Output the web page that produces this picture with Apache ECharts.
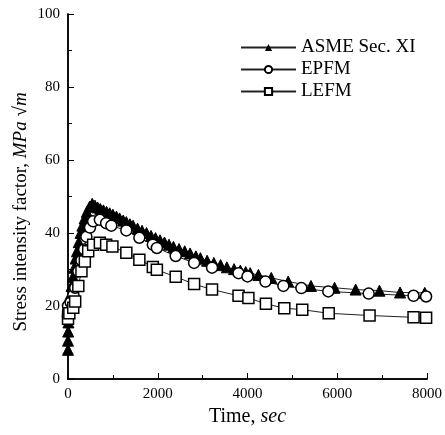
<!DOCTYPE html>
<html>
<head>
<meta charset="utf-8">
<script src="https://cdn.jsdelivr.net/npm/echarts@6/dist/echarts.min.js"></script>
<style>html,body{margin:0;padding:0;background:#fff}#c{width:445px;height:435px}</style>
</head>
<body>
<div id="c"></div>
<script>
// ASME Sec. XI (triangles)
const asmeT = [0,0,5,10,20,30,50,80,110,140,170,200,240,280,320,370,420,480,540,600,660,720,790,860,930,1000,1080,1150,1230,1300,1380,1450,1550,1650,1750,1850,1950,2050,2150,2250,2350,2475,2600,2720,2850,2950,3100,3250,3400,3540,3700,3840,3960,4060,4243,4530,4906,5414,5940,6410,6940,7400,7950];
const asmeK = [8,10.5,13,15.5,18,20.5,23,25.5,28,30.5,33,35,37.5,40,42,44,45.8,47.2,48,47.5,47,46.6,46.2,45.8,45.4,45,44.5,44,43.4,43,42.4,42,41.2,40.6,40,39.2,38.6,38,37.4,36.8,36.2,35.6,35,34.4,33.6,33.1,32.4,31.8,31.2,30.6,30.1,29.7,29.3,29,28.5,27.7,26.7,25.5,25,24.5,24.2,23.7,23.6];
// EPFM (circles)
const epfmT = [0,0,0,60,120,160,230,300,360,410,490,560,710,850,965,1300,1590,1890,1980,2400,2810,3210,3800,4000,4400,4800,5200,5800,6700,7700,7980];
const epfmK = [17,18.5,20,21,23,25,29.5,32.5,35.5,39,41.5,43.2,43.6,42.7,42,40.7,38.7,36.8,35.9,33.7,31.8,30.5,29,28.1,26.7,25.5,24.9,24,23.4,22.8,22.6];
// LEFM (squares)
const lefmT = [0,30,117,160,230,300,375,450,560,710,850,990,1300,1590,1890,1980,2400,2810,3210,3800,4020,4410,4820,5220,5810,6720,7700,7980];
const lefmK = [16.5,18,19.5,21.2,25.5,29.5,32.2,35,36.8,37.3,36.8,36.3,34.6,32.7,30.7,29.9,28,26,24.5,22.8,22.2,20.6,19.4,19,18,17.4,16.9,16.8];
const seriesNames = ['ASME Sec. XI','EPFM','LEFM'];
// y-axis title pieces: [text, italic]
const yTitleParts = [['Stress intensity factor, ', false], ['MPa', true], [' √', false], ['m', true]];

const zip = (a,b) => a.map((v,i)=>[v,b[i]]);
const FONT = '"Liberation Serif", "Times New Roman", serif';
const YFS = 19;

// build y title as a rotated group of plain texts
const mctx = document.createElement('canvas').getContext('2d');
let offs = 0;
const yChildren = yTitleParts.map(([t, it]) => {
  mctx.font = (it ? 'italic ' : '') + YFS + 'px ' + FONT;
  const w = mctx.measureText(t).width;
  const el = {type:'text', x:offs, y:0,
    style:{text:t, font:(it ? 'italic ' : '') + YFS + 'px ' + FONT, fill:'#000', verticalAlign:'middle', align:'left'}};
  offs += w;
  return el;
});
const yTitleTotal = offs;

const chart = echarts.init(document.getElementById('c'), null, {renderer:'canvas'});
const lineStyle = {color:'#222', width:1};
chart.setOption({
  animation:false,
  backgroundColor:'#fff',
  grid:{left:68, right:15, top:14, bottom:56},
  legend:{
    orient:'vertical', left:235, top:33, itemWidth:55, itemHeight:9, itemGap:3,
    textStyle:{fontFamily:FONT, fontSize:19, color:'#000'},
    data:seriesNames
  },
  graphic:[{
    type:'group', x:21, y:212 + yTitleTotal/2, rotation:Math.PI/2,
    children:yChildren
  }],
  xAxis:[{
    type:'value', min:0, max:8000, interval:2000,
    axisLine:{lineStyle:{color:'#000', width:1.5}},
    axisTick:{inside:true, length:6, lineStyle:{color:'#000'}},
    minorTick:{show:true, splitNumber:2, length:4, lineStyle:{color:'#000'}},
    splitLine:{show:false},
    axisLabel:{fontFamily:FONT, fontSize:15, color:'#000', margin:8, formatter:v=>String(v)},
    name:'{a|Time, }{i|sec}', nameLocation:'middle', nameGap:25,
    nameTextStyle:{rich:{a:{fontFamily:FONT, fontSize:20, color:'#000'}, i:{fontFamily:FONT, fontSize:20, fontStyle:'italic', color:'#000'}}}
  },{
    type:'value', position:'top', min:0, max:8000,
    axisLine:{show:true, lineStyle:{color:'#000', width:1.5}},
    axisTick:{show:false}, axisLabel:{show:false}, splitLine:{show:false}
  }],
  yAxis:[{
    type:'value', min:0, max:100, interval:20,
    axisLine:{show:true, lineStyle:{color:'#000', width:1.5}},
    axisTick:{show:true, inside:true, length:6, lineStyle:{color:'#000'}},
    minorTick:{show:true, splitNumber:2, length:4, lineStyle:{color:'#000'}},
    splitLine:{show:false},
    axisLabel:{fontFamily:FONT, fontSize:15, color:'#000', margin:8}
  },{
    type:'value', position:'right', min:0, max:100,
    axisLine:{show:true, lineStyle:{color:'#000', width:1.5}},
    axisTick:{show:false}, axisLabel:{show:false}, splitLine:{show:false}
  }],
  series:[
    {name:seriesNames[0], type:'line', data:zip(asmeT,asmeK), symbol:'triangle', symbolSize:11,
     lineStyle:lineStyle, itemStyle:{color:'#000', borderColor:'#000'}},
    {name:seriesNames[1], type:'line', data:zip(epfmT,epfmK), symbol:'circle', symbolSize:11,
     lineStyle:lineStyle, itemStyle:{color:'#fff', borderColor:'#000', borderWidth:1.5}},
    {name:seriesNames[2], type:'line', data:zip(lefmT,lefmK), symbol:'rect', symbolSize:11,
     lineStyle:lineStyle, itemStyle:{color:'#fff', borderColor:'#000', borderWidth:1.5}}
  ]
});
</script>
</body>
</html>
